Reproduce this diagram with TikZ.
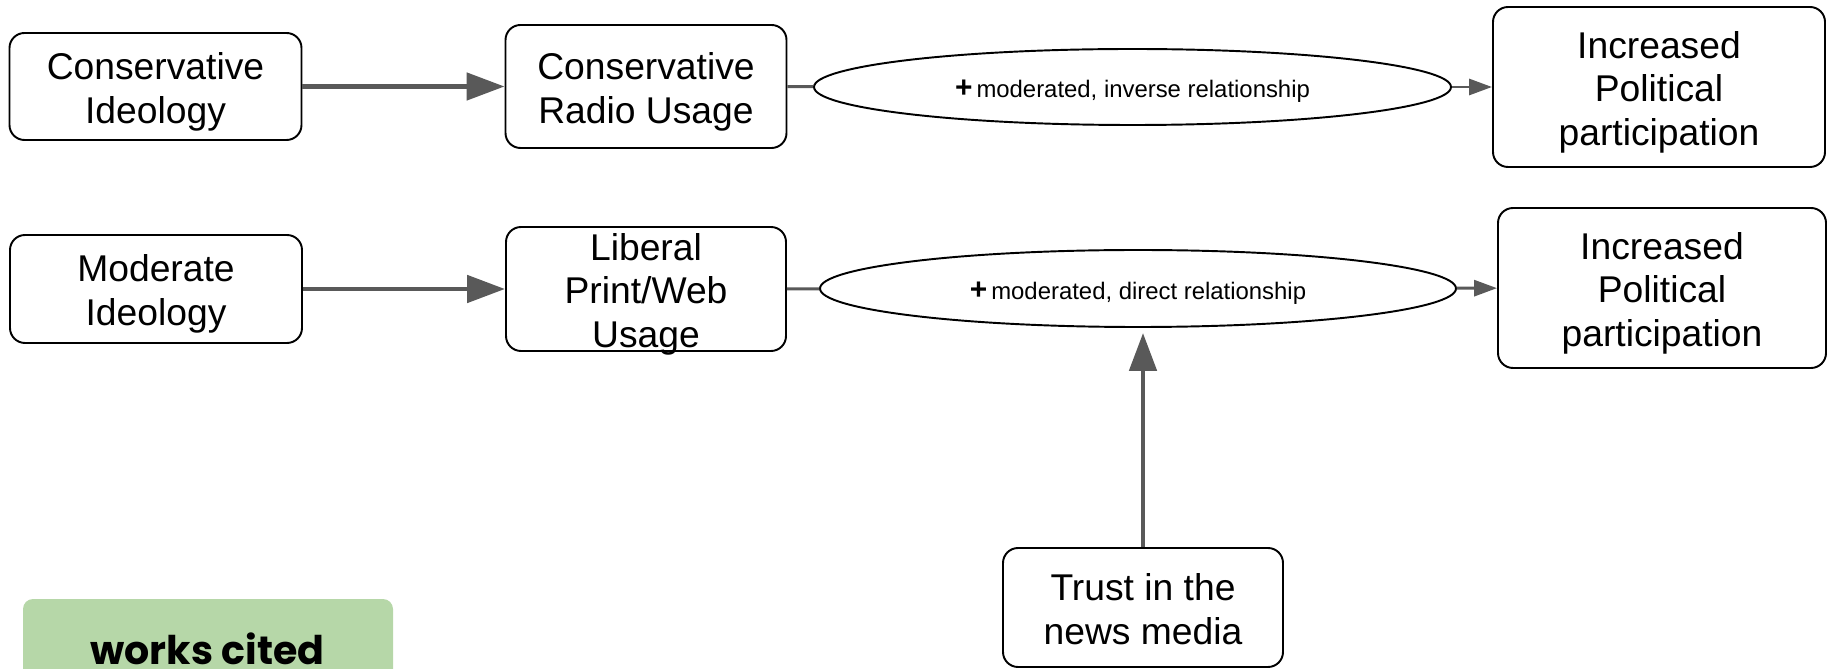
\documentclass[tikz,border=0pt]{standalone}
\usepackage{fontspec}
\setmainfont{Liberation Sans}
\newfontfamily\citefont{Poppins}
\usetikzlibrary{shapes.geometric,arrows.meta}
\definecolor{arrowgray}{HTML}{595959}
\definecolor{citegreen}{HTML}{B6D7A8}
% lines of a box, set a little low as in the drawing program
\newcommand\boxlines[1]{\raisebox{-8.7pt}[0pt][0pt]{\begin{tabular}{@{}c@{}}#1\end{tabular}}}
\newcommand\relationtext[1]{\raisebox{-2.5pt}[\height][\depth]{{\fontsize{17}{17}\selectfont\bfseries +}\,#1}}
\tikzset{
  box/.style={draw, rounded corners=0.3cm, line width=1.1pt, inner sep=0pt,
    font=\fontsize{21.2}{25}\selectfont},
  relation/.style={ellipse, draw, line width=1.1pt, inner sep=0pt,
    font=\fontsize{13.6}{16}\selectfont},
  flow/.style={draw=arrowgray, line width=2.8pt, -{Triangle[length=0.76cm,width=0.54cm]}},
  feed/.style={draw=arrowgray, line width=1.7pt, -{Triangle[length=0.46cm,width=0.32cm]}},
  stub/.style={draw=arrowgray, line width=1.7pt},
}

\begin{document}
\begin{tikzpicture}
  \useasboundingbox (0,0) rectangle (36.54,13.36);

  % conservative path
  \node[box, minimum width=5.84cm, minimum height=2.14cm] (consideo) at (3.11,11.63) {\boxlines{Conservative\\Ideology}};
  \node[box, minimum width=5.62cm, minimum height=2.46cm] (radio) at (12.92,11.63) {\boxlines{Conservative\\Radio Usage}};
  \node[relation, minimum width=12.74cm, minimum height=1.52cm] (inverse) at (22.65,11.62) {\relationtext{moderated, inverse relationship}};
  \node[box, minimum width=6.64cm, minimum height=3.2cm] (partone) at (33.18,11.62) {\boxlines{Increased\\Political\\participation}};

  % moderate path
  \node[box, minimum width=5.84cm, minimum height=2.16cm] (modideo) at (3.12,7.58) {\boxlines{Moderate\\Ideology}};
  \node[box, minimum width=5.6cm, minimum height=2.48cm] (printweb) at (12.92,7.58) {\boxlines{Liberal\\Print/Web\\Usage}};
  \node[relation, minimum width=12.72cm, minimum height=1.54cm] (direct) at (22.76,7.59) {\relationtext{moderated, direct relationship}};
  \node[box, minimum width=6.56cm, minimum height=3.2cm] (parttwo) at (33.24,7.6) {\boxlines{Increased\\Political\\participation}};

  \node[box, minimum width=5.6cm, minimum height=2.38cm] (trust) at (22.86,1.21) {\boxlines{Trust in the\\news media}};

  \draw[flow] (consideo) -- (radio);
  \draw[stub] (radio) -- (inverse);
  \draw[feed] (inverse) -- (partone);
  \draw[flow] (modideo) -- (printweb);
  \draw[stub] (printweb) -- (direct);
  \draw[feed] (direct) -- (parttwo);
  \draw[flow, shorten >=0.1cm] (trust.north) -- (trust.north |- direct.south);

  % works cited tab
  \begin{scope}
    \clip (0,0) rectangle (36.54,13.36);
    \fill[citegreen, rounded corners=0.2cm] (0.46,1.38) rectangle (7.86,-0.6);
  \end{scope}
  \node[anchor=base, font=\citefont\bfseries\fontsize{22.5}{27}\selectfont, inner sep=0pt] (cited) at (4.15,0.07) {works cited};
\end{tikzpicture}
\end{document}
